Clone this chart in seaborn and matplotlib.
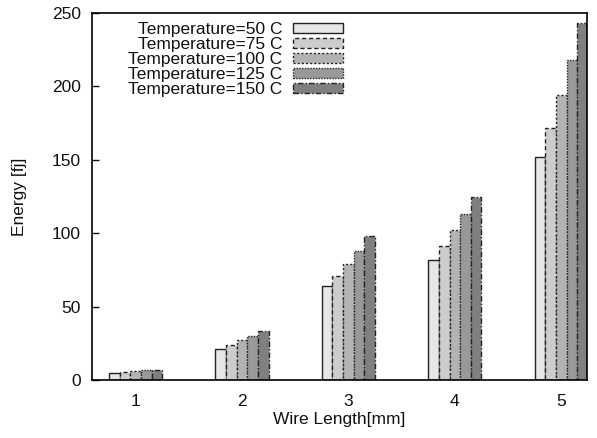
import matplotlib
matplotlib.use("Agg")
import matplotlib.pyplot as plt
import seaborn as sns
import pandas as pd

# data
lengths = ["1", "2", "3", "4", "5"]
temps = ["Temperature=50 C", "Temperature=75 C", "Temperature=100 C",
         "Temperature=125 C", "Temperature=150 C"]
e50 = [5.0, 21, 64, 82, 152]
e75 = [5.5, 24, 71, 91, 172]
e100 = [6.0, 27, 79, 102, 194]
e125 = [6.5, 30, 88, 113, 218]
e150 = [7.0, 33.5, 98, 125, 243]

greys = ["#e6e6e6", "#cccccc", "#b3b3b3", "#999999", "#808080"]
styles = ["-", (0, (3, 2)), (0, (1.5, 1.5)), (0, (1, 1)), (0, (4, 1.5, 1, 1.5))]

rows = []
for t, vals in zip(temps, [e50, e75, e100, e125, e150]):
    for l, v in zip(lengths, vals):
        rows.append({"len": l, "energy": v, "temp": t})
df = pd.DataFrame(rows)

sns.set_style("ticks")
plt.rcParams["font.family"] = ["Liberation Sans", "DejaVu Sans"]
plt.rcParams["text.color"] = "#111111"
plt.rcParams["axes.labelcolor"] = "#111111"
plt.rcParams["xtick.color"] = "#111111"
plt.rcParams["ytick.color"] = "#111111"
fs = 12.5

fig = plt.figure(figsize=(5.97, 4.38), dpi=100)
ax = fig.add_axes([0.154, 0.1324, 0.829, 0.8378])

sns.barplot(data=df, x="len", y="energy", hue="temp", hue_order=temps,
            order=lengths, palette=greys, width=0.5, saturation=1,
            legend=False, ax=ax)

for cont, ls in zip(ax.containers, styles):
    for p in cont.patches:
        p.set_edgecolor("#222222")
        p.set_linewidth(1.0)
        p.set_linestyle(ls)

ax.set_ylim(0, 250)
ax.set_xlim(-0.41, 4.24)
ax.set_yticks([0, 50, 100, 150, 200, 250])
ax.tick_params(axis="y", direction="in", length=5, width=1, labelsize=fs, pad=8)
ax.tick_params(axis="x", length=0, labelsize=fs, pad=10)
for s in ax.spines.values():
    s.set_linewidth(1.2)
    s.set_color("black")
    s.set_visible(True)

ax.set_xlabel("Wire Length[mm]", fontsize=fs, labelpad=2)
ax.set_ylabel("Energy [fj]", fontsize=fs, labelpad=18)

ax.legend([c.patches[0] for c in ax.containers], temps, loc="upper right",
          bbox_to_anchor=(0.525, 0.999), frameon=False, markerfirst=False,
          handlelength=2.9, handleheight=0.55, labelspacing=0.0,
          handletextpad=0.6, borderpad=0, fontsize=fs)

fig.savefig("out.png", dpi=100)
